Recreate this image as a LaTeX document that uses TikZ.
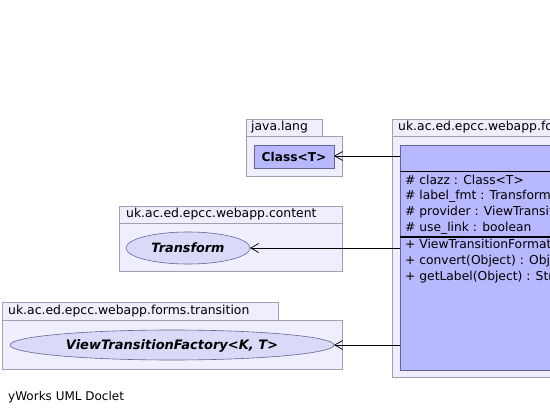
\documentclass[tikz,border=0pt]{standalone}
\usepackage{fontspec}
\setmainfont{DejaVu Sans}
\usetikzlibrary{arrows.meta}
\definecolor{pkgfill}{RGB}{238,238,252}
\definecolor{pkgline}{RGB}{160,160,176}
\definecolor{clsfill}{RGB}{184,184,255}
\definecolor{clsline}{RGB}{100,100,150}
\definecolor{ellfill}{RGB}{218,218,248}
\tikzset{
  pkg/.style={draw=pkgline, fill=pkgfill, line width=0.8pt},
  pkgtext/.style={anchor=west, inner sep=0pt, font=\fontsize{12.4}{13}\selectfont},
  cls/.style={draw=clsline, fill=clsfill, line width=0.8pt},
  ell/.style={draw=clsline, fill=ellfill, line width=0.6pt},
  member/.style={anchor=west, inner sep=0pt, font=\fontsize{12.3}{13}\selectfont},
  dep/.style={draw=black, line width=0.8pt, -{Straight Barb[length=8pt,width=9pt,line width=0.7pt]}}
}
\begin{document}
\begin{tikzpicture}[x=1pt,y=-1pt]
\useasboundingbox (0,0) rectangle (550,415);
\begin{scope}
\clip (0,0) rectangle (550,415);
% java.lang
\draw[pkg] (246,119) rectangle (322,136);
\draw[pkg] (246,136) rectangle (342,176);
\node[pkgtext] (jl) at (251,127.5) {java.lang};
\draw[cls] (254,145) rectangle (334,168);
\node[inner sep=0pt, font=\fontsize{12.2}{13}\selectfont\bfseries] (cls) at (294,157) {Class<T>};
\coordinate (clsE) at (334,156);
% content
\draw[pkg] (119,206) rectangle (342,223);
\draw[pkg] (119,223) rectangle (342,271);
\node[pkgtext] (ct) at (126,214.5) {uk.ac.ed.epcc.webapp.content};
\draw[ell] (188,248) ellipse (62 and 16);
\node[inner sep=0pt, font=\fontsize{12.8}{14}\selectfont\bfseries\itshape] (tr) at (188,248) {Transform};
\coordinate (trE) at (250,248);
% transition
\draw[pkg] (2,302) rectangle (278,320);
\draw[pkg] (2,320) rectangle (342,369);
\node[pkgtext] (tn) at (8,311) {uk.ac.ed.epcc.webapp.forms.transition};
\draw[ell] (172,345) ellipse (162 and 15);
\node[inner sep=0pt, font=\fontsize{13}{14}\selectfont\bfseries\itshape] (vtf) at (172,345.5) {ViewTransitionFactory<K, T>};
\coordinate (vtfE) at (334,345);
% main package
\draw[pkg] (392,119) rectangle (570,136);
\draw[pkg] (392,136) rectangle (570,377);
\node[pkgtext] (mp) at (398,127.5) {uk.ac.ed.epcc.webapp.forms.transition.ViewTransitionFormatter};
\draw[cls] (400,145) rectangle (570,370);
\draw[line width=0.8pt] (400,171) -- (570,171);
\draw[line width=1.8pt] (400,237) -- (570,237);
\node[member] (a1) at (405,180) {\# clazz : Class<T>};
\node[member] (a2) at (405,196) {\# label\_fmt : Transform};
\node[member] (a3) at (405,212) {\# provider : ViewTransitionFactory<K, T>};
\node[member] (a4) at (405,228) {\# use\_link : boolean};
\node[member] (m1) at (405,245) {+ ViewTransitionFormatter(...)};
\node[member] (m2) at (405,261) {+ convert(Object) : Object};
\node[member] (m3) at (405,277) {+ getLabel(Object) : String};
\coordinate (s1) at (400,156);
\coordinate (s2) at (400,248);
\coordinate (s3) at (400,345);
\end{scope}
\draw[dep] (s1) -- (clsE);
\draw[dep] (s2) -- (trE);
\draw[dep] (s3) -- (vtfE);
\node[anchor=west, inner sep=0pt, font=\fontsize{12}{13}\selectfont] (yw) at (8,397) {yWorks UML Doclet};
\end{tikzpicture}
\end{document}
